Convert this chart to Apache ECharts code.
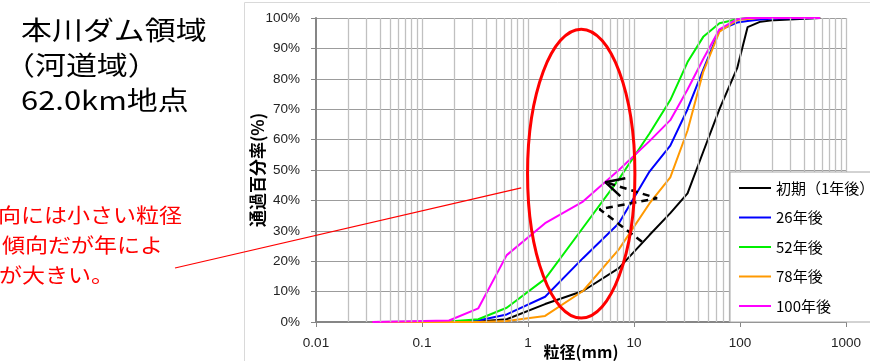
<!DOCTYPE html>
<html>
<head>
<meta charset="utf-8">
<script src="https://cdn.jsdelivr.net/npm/echarts@6/dist/echarts.min.js"></script>
<style>
  html, body { margin: 0; padding: 0; background: #fff; }
  #chart { width: 870px; height: 361px; }
</style>
</head>
<body>
<div id="chart"></div>
<script>
// Grain sizes (mm) of the size classes
const grainSizes = [0.034, 0.18, 0.34, 0.63, 1.45, 3.3, 7.2, 14, 22, 32, 45, 64, 94, 118, 156, 210, 570];

// Percent passing for each period
const passInitial = [0, 0, 0.2, 0.9, 5.9, 10.2, 17.7, 28.6, 35.8, 42.3, 56, 70, 83.5, 97, 98.8, 99.3, 100];
const pass26 = [0, 0, 0.5, 2.5, 8.3, 21, 32.5, 49.5, 58, 70, 83, 96, 98.5, 99, 99.5, 99.8, 100];
const pass52 = [0, 0.2, 0.9, 4.7, 14.2, 31, 47, 62, 73, 85.5, 93.8, 98.3, 99.6, 100, 100, 100, 100];
const pass78 = [0, 0, 0, 0.3, 2, 10.2, 23.9, 39, 47.6, 63, 82.3, 95.5, 99.3, 99.7, 100, 100, 100];
const pass100 = [0, 0.5, 4.5, 22, 32.5, 39.6, 50, 59.5, 66.4, 76.5, 86.5, 96.3, 99.6, 100, 100, 100, 100];

const seriesNames = ['初期（1年後）', '26年後', '52年後', '78年後', '100年後'];
const seriesColors = ['#000000', '#0000ff', '#00f000', '#ff9900', '#ff00ff'];
const seriesValues = [passInitial, pass26, pass52, pass78, pass100];

// Axis range and labels
const xDecades = [0.01, 0.1, 1, 10, 100, 1000];
const yTicks = [0, 10, 20, 30, 40, 50, 60, 70, 80, 90, 100];

// Dashed trend arrow (grain size, percent)
const trendPath = [[11.9, 26.4], [4.73, 37.1], [16.5, 40.7], [5.36, 46.0]];
const trendHead = [[8.28, 47.3], [5.36, 46.0], [7.43, 41.4]];

// Highlight ellipse bounds: [left, top] and [right, bottom] in data units
const ellipseCorners = [[0.99, 96.3], [10.2, 1.3]];
// Leader line end on the ellipse
const leaderEnd = [0.863, 44.1];

const titleLines = ['本川ダム領域', '（河道域）', '62.0km地点'];
const noteLines = ['向には小さい粒径', '傾向だが年によ', 'が大きい。'];

// Minor grid lines at 2..9 within each decade, plus decade lines
const gridXs = [];
xDecades.slice(0, -1).forEach(function (d) {
  for (let k = 2; k <= 9; k++) gridXs.push(+(d * k).toPrecision(3));
});
xDecades.slice(1).forEach(function (d) { gridXs.push(d); });

const chart = echarts.init(document.getElementById('chart'), null, { renderer: 'canvas' });

const CJK = '"Noto Sans CJK JP", "Noto Sans CJK SC", sans-serif';
const LATIN = '"Liberation Sans", Arial, sans-serif';

const dataSeries = seriesNames.map(function (name, i) {
  return {
    name: name,
    type: 'line',
    data: grainSizes.map(function (g, j) { return [g, seriesValues[i][j]]; }),
    symbol: 'none',
    lineStyle: { color: seriesColors[i], width: 2 },
    itemStyle: { color: seriesColors[i] },
    z: 4
  };
});

chart.setOption({
  animation: false,
  grid: { left: 316, right: 24, top: 18, bottom: 39, containLabel: false, outerBoundsMode: 'none' },
  xAxis: {
    type: 'log',
    logBase: 10,
    min: xDecades[0],
    max: xDecades[xDecades.length - 1],
    name: '粒径(mm)',
    nameLocation: 'middle',
    nameGap: 30,
    nameMoveOverlap: false,
    nameTextStyle: { fontFamily: CJK, fontWeight: 'bold', fontSize: 16, color: '#000', verticalAlign: 'middle' },
    axisLine: { show: true, onZero: false, lineStyle: { color: '#868686', width: 2 } },
    axisTick: { show: true, length: 5, lineStyle: { color: '#868686', width: 1 } },
    splitLine: { show: false },
    axisLabel: {
      fontFamily: LATIN, fontSize: 13.5, color: '#222', margin: 14,
      formatter: function (v) { return String(+v.toPrecision(3)); }
    }
  },
  yAxis: {
    type: 'value',
    min: yTicks[0],
    max: yTicks[yTicks.length - 1],
    interval: 10,
    name: '通過百分率(%)',
    nameLocation: 'middle',
    nameRotate: 90,
    nameGap: 58,
    nameMoveOverlap: false,
    nameTextStyle: { fontFamily: CJK, fontWeight: 'bold', fontSize: 17, color: '#000', verticalAlign: 'middle' },
    axisLine: { show: true, lineStyle: { color: '#868686', width: 2 } },
    axisTick: { show: true, length: 5, lineStyle: { color: '#868686', width: 1 } },
    splitLine: { show: true, lineStyle: { color: '#9c9c9c', width: 1 } },
    axisLabel: { fontFamily: LATIN, fontSize: 13.5, color: '#222', margin: 16, formatter: '{value}%' }
  },
  legend: {
    data: seriesNames,
    orient: 'vertical',
    left: 730,
    top: 172,
    padding: [7, 40, 7, 9],
    itemGap: 11.5,
    itemWidth: 32,
    itemHeight: 2,
    icon: 'rect',
    backgroundColor: '#ffffff',
    borderColor: '#a6a6a6',
    borderWidth: 1,
    borderRadius: 0,
    textStyle: { fontFamily: CJK, fontSize: 15, color: '#000', lineHeight: 18 },
    selectedMode: false,
    z: 10
  },
  series: [
    {
      name: 'grid',
      type: 'line',
      data: [],
      silent: true,
      z: 1,
      markLine: {
        silent: true,
        symbol: ['none', 'none'],
        label: { show: false },
        lineStyle: { color: '#c0c0c0', width: 1.3, type: 'solid' },
        data: gridXs.map(function (v) { return { xAxis: v }; })
      }
    }
  ].concat(dataSeries).concat([
    {
      name: 'trend',
      type: 'line',
      data: trendPath,
      symbol: 'none',
      lineStyle: { color: '#000', width: 2.5, type: [7, 5] },
      z: 6
    },
    {
      name: 'trendHead',
      type: 'line',
      data: trendHead,
      symbol: 'none',
      lineStyle: { color: '#000', width: 2.5 },
      z: 6
    }
  ])
});

// Annotations placed from data coordinates
const p0 = chart.convertToPixel({ gridIndex: 0 }, ellipseCorners[0]);
const p1 = chart.convertToPixel({ gridIndex: 0 }, ellipseCorners[1]);
const le = chart.convertToPixel({ gridIndex: 0 }, leaderEnd);

const graphics = [
  {
    type: 'rect',
    shape: { x: 244.5, y: 2.5, width: 700, height: 400 },
    style: { fill: 'none', stroke: '#d9d9d9', lineWidth: 1 },
    silent: true,
    z: 0
  },
  {
    type: 'ellipse',
    shape: { cx: (p0[0] + p1[0]) / 2, cy: (p0[1] + p1[1]) / 2, rx: (p1[0] - p0[0]) / 2, ry: (p1[1] - p0[1]) / 2 },
    style: { fill: 'none', stroke: '#ff0000', lineWidth: 3 },
    silent: true,
    z: 20
  },
  {
    type: 'line',
    shape: { x1: 175, y1: 268, x2: le[0], y2: le[1] },
    style: { stroke: '#ff0000', lineWidth: 1.2 },
    silent: true,
    z: 20
  }
];

const titleX = [21, 4, 21];
titleLines.forEach(function (t, i) {
  graphics.push({
    type: 'text',
    x: titleX[i], y: 30 + i * 35,
    scaleX: 1.19,
    style: { text: t, fill: '#000', fontSize: 26, fontFamily: CJK, verticalAlign: 'middle', align: 'left' },
    silent: true,
    z: 20
  });
});

const noteX = [-2, 2, -1];
noteLines.forEach(function (t, i) {
  graphics.push({
    type: 'text',
    x: noteX[i], y: 215 + i * 30,
    scaleX: 1.15,
    style: { text: t, fill: '#ff0000', fontSize: 20, fontFamily: CJK, verticalAlign: 'middle', align: 'left' },
    silent: true,
    z: 20
  });
});

chart.setOption({ graphic: graphics });
</script>
</body>
</html>
